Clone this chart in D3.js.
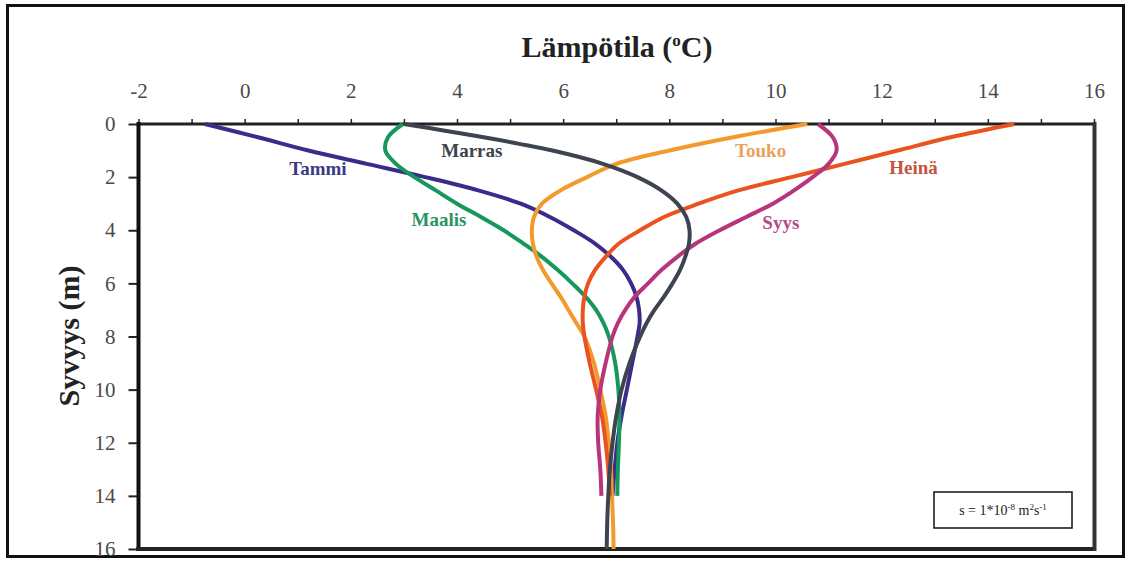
<!DOCTYPE html>
<html>
<head>
<meta charset="utf-8">
<script src="https://cdn.jsdelivr.net/npm/d3@7"></script>
<style>
  body { margin: 0; background: #fff; }
  svg { display: block; }
</style>
</head>
<body>
<svg id="chart"></svg>
<script>
// depth points (m) shared by every profile
var depths = [0, 0.5, 1, 1.5, 2, 2.5, 3, 3.5, 4, 4.5, 5, 5.5, 6, 6.5, 7, 7.5, 8, 9, 10, 11, 12, 13, 14, 15, 16];

// temperatures (degC), one per depth
var tammi  = [-0.75, 0.25, 1.2, 2.3, 3.4, 4.4, 5.2, 5.75, 6.2, 6.6, 6.9, 7.13, 7.28, 7.38, 7.43, 7.44, 7.4, 7.3, 7.2, 7.1, 7.02, 6.97, 6.93];
var maalis = [2.98, 2.7, 2.65, 2.85, 3.2, 3.6, 4.0, 4.45, 4.88, 5.25, 5.6, 5.9, 6.17, 6.42, 6.62, 6.76, 6.86, 6.98, 7.04, 7.06, 7.05, 7.03, 7.02];
var touko  = [10.6, 9.2, 8.0, 7.0, 6.45, 5.95, 5.6, 5.45, 5.41, 5.43, 5.5, 5.62, 5.78, 5.95, 6.1, 6.25, 6.4, 6.58, 6.7, 6.8, 6.86, 6.9, 6.92, 6.94, 6.95];
var heina  = [14.5, 13.3, 12.3, 11.3, 10.3, 9.3, 8.55, 7.9, 7.45, 7.05, 6.8, 6.6, 6.47, 6.4, 6.37, 6.37, 6.4, 6.5, 6.62, 6.73, 6.8, 6.85, 6.88];
var syys   = [10.8, 11.08, 11.15, 11.0, 10.7, 10.35, 9.95, 9.45, 8.95, 8.5, 8.15, 7.85, 7.6, 7.35, 7.17, 7.03, 6.93, 6.8, 6.7, 6.65, 6.66, 6.7, 6.72];
var marras = [3.0, 4.5, 5.8, 6.75, 7.4, 7.85, 8.15, 8.32, 8.38, 8.37, 8.3, 8.2, 8.06, 7.9, 7.72, 7.57, 7.45, 7.25, 7.1, 7.0, 6.93, 6.88, 6.85, 6.83, 6.82];

var seriesNames = ["Tammi", "Maalis", "Touko", "Heinä", "Syys", "Marras"];
var seriesValues = [tammi, maalis, touko, heina, syys, marras];
var seriesColors = ["#3b2c8c", "#15985c", "#f39a2c", "#ea5320", "#b8357b", "#3d4450"];
var labelColors = ["#3a3a86", "#2a9462", "#e9a25e", "#c8533c", "#b24c82", "#3e434c"];
// label anchor positions in data units [temperature, depth]
var labelT = [1.38, 3.66, 9.72, 12.6, 10.1, 4.28];
var labelD = [1.66, 3.6, 0.98, 1.62, 3.72, 0.98];

var xTicks = d3.range(-2, 17, 1);
var yTicks = d3.range(0, 17, 2);

var W = 1128, H = 561;
var svg = d3.select("#chart").attr("width", W).attr("height", H);

svg.append("rect")
  .attr("x", 0).attr("y", 0).attr("width", W).attr("height", H)
  .attr("fill", "#fff");

// outer frame
svg.append("rect")
  .attr("x", 7.5).attr("y", 5.5).attr("width", 1116).attr("height", 551)
  .attr("fill", "none").attr("stroke", "#111").attr("stroke-width", 3);

var x = d3.scaleLinear().domain([-2, 16]).range([138.5, 1094]);
var y = d3.scaleLinear().domain([0, 16]).range([124, 549]);

var serif = "'Liberation Serif', 'DejaVu Serif', serif";

// top axis
var xAxis = svg.append("g")
  .attr("transform", "translate(0,124)")
  .call(d3.axisTop(x).tickValues(xTicks).tickSize(5).tickPadding(21)
    .tickFormat(function(d) { return d % 2 === 0 ? d : ""; }));
xAxis.select(".domain").remove();
xAxis.selectAll("line").attr("stroke", "#222").attr("stroke-width", 1.5);
xAxis.selectAll("text")
  .style("font-family", serif).style("font-size", "21px").attr("fill", "#4a4a4a");

// left axis
var yAxis = svg.append("g")
  .attr("transform", "translate(138.5,0)")
  .call(d3.axisLeft(y).tickValues(yTicks).tickSize(10).tickPadding(13));
yAxis.select(".domain").remove();
yAxis.selectAll("line").attr("stroke", "#222").attr("stroke-width", 2);
yAxis.selectAll("text")
  .style("font-family", serif).style("font-size", "21px").attr("fill", "#4a4a4a");

// plot frame
svg.append("line").attr("x1", 137).attr("x2", 1096).attr("y1", 124).attr("y2", 124)
  .attr("stroke", "#222").attr("stroke-width", 3);
svg.append("line").attr("x1", 138.5).attr("x2", 138.5).attr("y1", 122).attr("y2", 550)
  .attr("stroke", "#111").attr("stroke-width", 4);
svg.append("line").attr("x1", 136).attr("x2", 1096).attr("y1", 549).attr("y2", 549)
  .attr("stroke", "#222").attr("stroke-width", 4);
svg.append("line").attr("x1", 1094.5).attr("x2", 1094.5).attr("y1", 122).attr("y2", 551)
  .attr("stroke", "#333").attr("stroke-width", 4);

// profiles
var line = d3.line()
  .x(function(d) { return x(d[0]); })
  .y(function(d) { return y(d[1]); })
  .curve(d3.curveCatmullRom.alpha(0.5));

seriesValues.forEach(function(vals, i) {
  var pts = vals.map(function(t, j) { return [t, depths[j]]; });
  svg.append("path")
    .datum(pts)
    .attr("d", line)
    .attr("fill", "none")
    .attr("stroke", seriesColors[i])
    .attr("stroke-width", 4)
    .attr("stroke-linejoin", "round");
});

// curve labels
seriesNames.forEach(function(name, i) {
  svg.append("text")
    .attr("x", x(labelT[i]))
    .attr("y", y(labelD[i]))
    .attr("dy", "0.35em")
    .attr("text-anchor", "middle")
    .style("font-family", serif)
    .style("font-weight", "bold")
    .style("font-size", "19px")
    .attr("fill", labelColors[i])
    .text(name);
});

// axis titles
var title = svg.append("text")
  .attr("x", 617).attr("y", 57)
  .attr("text-anchor", "middle")
  .style("font-family", serif).style("font-weight", "bold").style("font-size", "30px")
  .attr("fill", "#222");
title.append("tspan").text("Lämpötila (");
title.append("tspan").attr("dy", -11).style("font-size", "17px").text("o");
title.append("tspan").attr("dy", 11).text("C)");

svg.append("text")
  .attr("transform", "translate(79,336) rotate(-90)")
  .attr("text-anchor", "middle")
  .style("font-family", serif).style("font-weight", "bold").style("font-size", "30px")
  .attr("fill", "#222")
  .text("Syvyys (m)");

// note box
svg.append("rect")
  .attr("x", 934).attr("y", 492).attr("width", 138).attr("height", 36)
  .attr("fill", "#fff").attr("stroke", "#111").attr("stroke-width", 1.5);
var note = svg.append("text")
  .attr("x", 1003).attr("y", 515)
  .attr("text-anchor", "middle")
  .style("font-family", serif).style("font-size", "14px")
  .attr("fill", "#222");
note.append("tspan").text("s = 1*10");
note.append("tspan").attr("dy", -5).style("font-size", "9px").text("-8");
note.append("tspan").attr("dy", 5).text(" m");
note.append("tspan").attr("dy", -5).style("font-size", "9px").text("2");
note.append("tspan").attr("dy", 5).text("s");
note.append("tspan").attr("dy", -5).style("font-size", "9px").text("-1");
</script>
</body>
</html>
